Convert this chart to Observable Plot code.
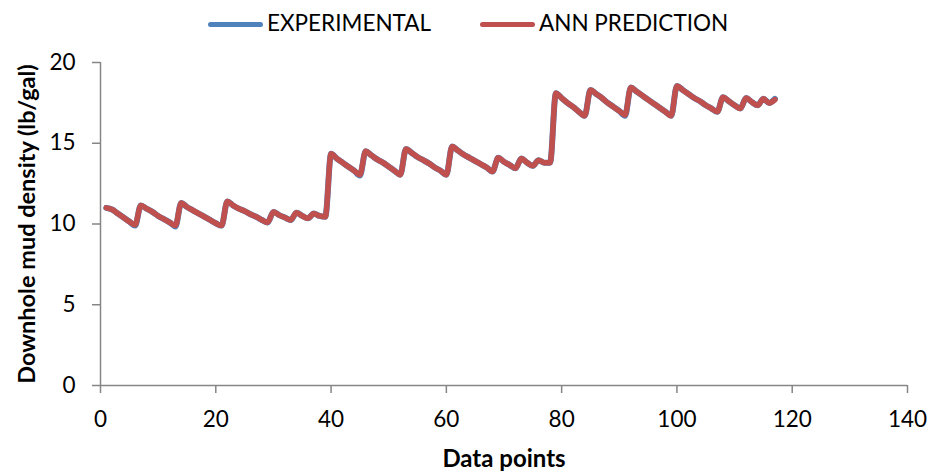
<!DOCTYPE html>
<html>
<head>
<meta charset="utf-8">
<script src="https://cdn.jsdelivr.net/npm/d3@7"></script>
<script src="https://cdn.jsdelivr.net/npm/@observablehq/plot@0.6"></script>
<style>
  html, body { margin: 0; padding: 0; background: #fff; }
  #wrap { width: 936px; height: 472px; position: relative; font-family: Lato, "Open Sans", sans-serif; }
  #legend { position: relative; width: 936px; height: 45px; }
  #legend .sw { position: absolute; height: 5px; width: 55px; top: 22px; border-radius: 3px; }
  #legend .lb { position: absolute; top: 0px; line-height: 45px; font-size: 22.5px; color: #000; white-space: nowrap; }
  #chart svg { display: block; }
</style>
</head>
<body>
<div id="wrap">
  <div id="legend"></div>
  <div id="chart"></div>
</div>
<script>
const seriesNames = ["EXPERIMENTAL", "ANN PREDICTION"];
const seriesColors = ["#4F81BD", "#C0504D"];
const xTicks = [0, 20, 40, 60, 80, 100, 120, 140];
const yTicks = [0, 5, 10, 15, 20];
const xTitle = "Data points";
const yTitle = "Downhole mud density (lb/gal)";

const experimental = [
  11.0, 10.9, 10.65, 10.4, 10.15, 9.9,
  11.15, 10.95, 10.75, 10.5, 10.3, 10.1, 9.85,
  11.3, 11.05, 10.85, 10.65, 10.45, 10.25, 10.05, 9.9,
  11.4, 11.15, 10.95, 10.8, 10.6, 10.45, 10.25, 10.1,
  10.75, 10.55, 10.4, 10.25,
  10.7, 10.5, 10.35,
  10.65, 10.5, 10.45,
  14.35, 14.05, 13.8, 13.55, 13.3, 13.0,
  14.5, 14.25, 14.0, 13.8, 13.55, 13.3, 13.05,
  14.65, 14.4, 14.15, 13.95, 13.75, 13.5, 13.3, 13.05,
  14.8, 14.55, 14.3, 14.1, 13.9, 13.7, 13.5, 13.25,
  14.1, 13.85, 13.65, 13.45,
  14.05, 13.8, 13.6,
  13.95, 13.8, 13.8,
  18.1, 17.8, 17.5, 17.25, 16.95, 16.7,
  18.3, 18.05, 17.8, 17.5, 17.25, 17.0, 16.7,
  18.45, 18.2, 17.95, 17.7, 17.45, 17.2, 16.95, 16.7,
  18.55, 18.3, 18.05, 17.8, 17.6, 17.35, 17.15, 16.95,
  17.85, 17.6, 17.35, 17.15,
  17.8, 17.55, 17.35,
  17.75, 17.5, 17.75
];

const annPrediction = [
  11.0, 10.9, 10.65, 10.4, 10.15, 9.95,
  11.15, 10.95, 10.75, 10.5, 10.3, 10.1, 9.9,
  11.3, 11.05, 10.85, 10.65, 10.45, 10.25, 10.05, 9.9,
  11.4, 11.15, 10.95, 10.8, 10.6, 10.45, 10.25, 10.1,
  10.75, 10.55, 10.4, 10.25,
  10.7, 10.5, 10.35,
  10.65, 10.5, 10.45,
  14.35, 14.05, 13.8, 13.55, 13.3, 13.05,
  14.5, 14.25, 14.0, 13.8, 13.55, 13.3, 13.05,
  14.65, 14.4, 14.15, 13.95, 13.75, 13.5, 13.3, 13.05,
  14.8, 14.55, 14.3, 14.1, 13.9, 13.7, 13.5, 13.25,
  14.1, 13.85, 13.65, 13.45,
  14.05, 13.8, 13.6,
  13.95, 13.8, 13.8,
  18.1, 17.8, 17.5, 17.25, 16.95, 16.7,
  18.3, 18.05, 17.8, 17.5, 17.25, 17.0, 16.75,
  18.45, 18.2, 17.95, 17.7, 17.45, 17.2, 16.95, 16.7,
  18.55, 18.3, 18.05, 17.8, 17.6, 17.35, 17.15, 16.95,
  17.85, 17.6, 17.35, 17.15,
  17.8, 17.55, 17.35,
  17.75, 17.5, 17.7
];

// Data point numbers (1-based index of each sample)
const expData = experimental.map((v, i) => ({x: i + 1, y: v}));
const annData = annPrediction.map((v, i) => ({x: i + 1, y: v}));

const FONT = 'Lato, "Open Sans", sans-serif';
const AXIS = "#868686";

// Legend (HTML, above the SVG)
const legendPos = [{sw: 208, lb: 267}, {sw: 480, lb: 539}];
const legend = document.getElementById("legend");
seriesNames.forEach((name, i) => {
  const sw = document.createElement("div");
  sw.className = "sw";
  sw.style.left = legendPos[i].sw + "px";
  sw.style.background = seriesColors[i];
  legend.appendChild(sw);
  const lb = document.createElement("div");
  lb.className = "lb";
  lb.style.left = legendPos[i].lb + "px";
  lb.textContent = name;
  legend.appendChild(lb);
});

const chart = Plot.plot({
  width: 936,
  height: 427,
  marginTop: 17,
  marginBottom: 87,
  marginLeft: 100,
  marginRight: 29,
  style: {fontFamily: FONT, fontSize: "22.5px", color: "#000", background: "#fff", overflow: "visible"},
  x: {domain: [0, 140]},
  y: {domain: [0, 20]},
  marks: [
    Plot.axisX({ticks: xTicks, tickSize: 8, tickPadding: 18, stroke: AXIS, strokeWidth: 1.5, fill: "#000", label: null, tickFormat: d => String(d)}),
    Plot.axisY({ticks: yTicks, tickSize: 8, tickPadding: 17, stroke: AXIS, strokeWidth: 1.5, fill: "#000", label: null, tickFormat: d => String(d)}),
    Plot.ruleY([0], {stroke: AXIS, strokeWidth: 1.5}),
    Plot.ruleX([0], {stroke: AXIS, strokeWidth: 1.5}),
    Plot.line(expData, {x: "x", y: "y", curve: "monotone-x", stroke: seriesColors[0], strokeWidth: 6, strokeLinejoin: "round", strokeLinecap: "round"}),
    Plot.line(annData, {x: "x", y: "y", curve: "monotone-x", stroke: seriesColors[1], strokeWidth: 5.5, strokeLinejoin: "round", strokeLinecap: "round"}),
    Plot.text([xTitle], {text: d => d, frameAnchor: "bottom", dy: 74, lineAnchor: "middle", textAnchor: "middle", fontWeight: "bold", fontSize: 24, fill: "#000"}),
    Plot.text([yTitle], {text: d => d, frameAnchor: "left", dx: -73, rotate: -90, lineAnchor: "middle", textAnchor: "middle", fontWeight: "bold", fontSize: 23.5, fill: "#000"})
  ]
});
document.getElementById("chart").appendChild(chart);
</script>
</body>
</html>
